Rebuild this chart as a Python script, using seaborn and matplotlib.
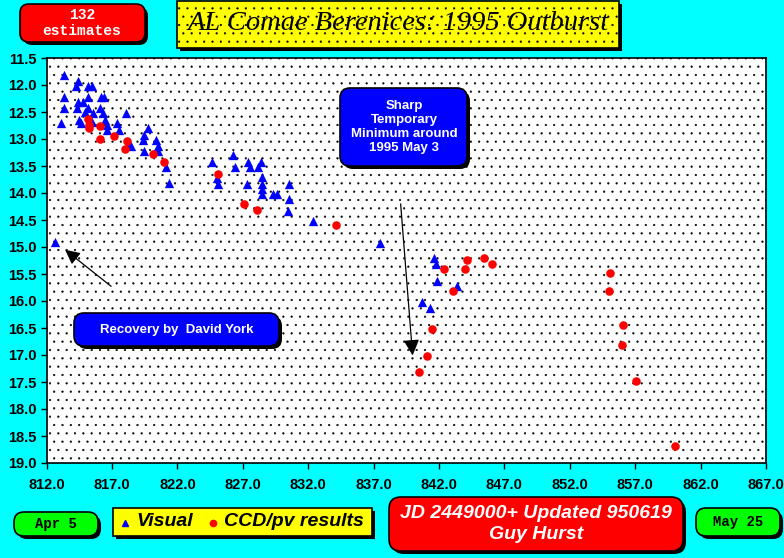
import matplotlib
matplotlib.use("Agg")
import matplotlib.pyplot as plt
from matplotlib.patches import FancyBboxPatch, Rectangle
from matplotlib.lines import Line2D
import pandas as pd
import seaborn as sns

# Visual estimates (JD - 2449000, magnitude)
vis_jd = [813.33, 814.40, 814.25, 815.16, 815.47, 813.33, 815.16, 816.16, 816.38,
          814.40, 814.78, 813.33, 814.32, 815.16, 816.08, 815.54, 816.31, 818.07,
          814.93, 813.10, 814.48, 814.63, 815.47, 816.46, 816.61, 816.61, 817.38,
          817.53, 818.22, 819.75, 819.44, 819.36, 820.36, 820.51, 818.45, 819.44,
          820.51, 821.12, 821.35, 824.64, 826.24, 826.39, 827.39, 827.54, 828.38,
          828.15, 825.02, 825.09, 827.31, 828.46, 828.46, 828.46, 828.46, 829.30,
          829.60, 830.52, 830.52, 830.44, 832.35, 812.64, 837.46, 841.59, 841.75,
          841.82, 843.35, 840.68, 841.29]
vis_mag = [11.81, 11.93, 12.02, 12.02, 12.02, 12.22, 12.22, 12.22, 12.22,
           12.31, 12.31, 12.43, 12.43, 12.43, 12.43, 12.52, 12.52, 12.52,
           12.50, 12.70, 12.65, 12.70, 12.69, 12.65, 12.74, 12.83, 12.70,
           12.83, 13.11, 12.80, 12.93, 13.02, 13.02, 13.13, 13.13, 13.22,
           13.22, 13.52, 13.81, 13.43, 13.30, 13.52, 13.43, 13.52, 13.43,
           13.52, 13.72, 13.83, 13.83, 13.70, 13.83, 13.93, 14.02, 14.02,
           14.02, 13.83, 14.11, 14.33, 14.52, 14.91, 14.93, 15.20, 15.31,
           15.63, 15.72, 16.02, 16.13]

# CCD / pv results
ccd_jd = [815.16, 815.24, 815.24, 816.08, 816.08, 817.15, 818.14, 817.99, 820.13,
          820.97, 825.09, 827.08, 828.07, 834.11, 842.37, 844.13, 843.98, 845.43,
          846.04, 843.05, 841.44, 841.06, 840.45, 855.11, 854.96, 856.03, 855.96,
          857.03, 860.01]
ccd_mag = [12.63, 12.74, 12.80, 12.76, 13.00, 12.94, 13.04, 13.19, 13.28,
           13.43, 13.65, 14.20, 14.31, 14.59, 15.41, 15.24, 15.41, 15.20,
           15.31, 15.81, 16.52, 17.02, 17.31, 15.48, 15.81, 16.44, 16.81,
           17.48, 18.69]

x_ticks = [812, 817, 822, 827, 832, 837, 842, 847, 852, 857, 862, 867]
y_ticks = [11.5, 12.0, 12.5, 13.0, 13.5, 14.0, 14.5, 15.0, 15.5, 16.0, 16.5,
           17.0, 17.5, 18.0, 18.5, 19.0]

W, H = 784, 558
CYAN = "#00ffff"

fig = plt.figure(figsize=(W / 100, H / 100), dpi=100)
fig.patch.set_facecolor(CYAN)
plt.rcParams["hatch.linewidth"] = 0.35

ax = fig.add_axes([46.6 / W, 1 - 463 / H, (766 - 46.6) / W, (463 - 58) / H])
ax.set_facecolor("white")
# dotted background
ax.add_patch(Rectangle((0, 0), 1, 1, transform=ax.transAxes, facecolor="white",
                       edgecolor="black", hatch="..", lw=0, zorder=0))

vis = pd.DataFrame({"jd": vis_jd, "mag": vis_mag})
ccd = pd.DataFrame({"jd": ccd_jd, "mag": ccd_mag})
sns.scatterplot(data=vis, x="jd", y="mag", marker="^", color="#0000ff", s=45,
                edgecolor="#0000ff", linewidth=0, ax=ax, zorder=3)
sns.scatterplot(data=ccd, x="jd", y="mag", marker="o", color="#ff0000", s=38,
                edgecolor="#ff0000", linewidth=0, ax=ax, zorder=4)

ax.set_xlim(812, 867)
ax.set_ylim(19.0, 11.5)
ax.set_xticks(x_ticks)
ax.set_xticklabels([f"{v:.1f}" for v in x_ticks],
                   fontfamily=["Liberation Sans Narrow", "Liberation Sans"],
                   fontweight="bold", fontsize=10.5)
ax.set_yticks(y_ticks)
ax.set_yticklabels([f"{v:.1f}" for v in y_ticks], fontfamily="Liberation Sans",
                   fontweight="bold", fontsize=10.5)
ax.tick_params(axis="both", direction="out", length=4, width=1, colors="black")
ax.tick_params(axis="x", pad=7)
ax.tick_params(axis="y", pad=3)
ax.set_xlabel("")
ax.set_ylabel("")
for sp in ax.spines.values():
    sp.set_color("black")
    sp.set_linewidth(1.2)

# arrows
ax.annotate("", xy=(813.25, 15.02), xytext=(817.1, 15.76),
            arrowprops=dict(arrowstyle="-|>", color="black", lw=0.9,
                            mutation_scale=22), zorder=5)
ax.annotate("", xy=(840.0, 17.06), xytext=(839.05, 14.15),
            arrowprops=dict(arrowstyle="-|>", color="black", lw=0.9,
                            mutation_scale=24), zorder=5)


def box(x0, y0, x1, y1, face, pad=8, shadow=3, edge="black", lw=1.2,
        hatch=None, square=False):
    style = "square,pad=0" if square else f"round,pad=0,rounding_size={pad / 100}"
    tr = fig.dpi_scale_trans
    if shadow:
        fig.add_artist(FancyBboxPatch(((x0 + shadow) / 100, (H - y1 - shadow) / 100),
                                      (x1 - x0) / 100, (y1 - y0) / 100,
                                      boxstyle=style, transform=tr,
                                      facecolor="black", edgecolor="black",
                                      lw=0, zorder=10))
    fig.add_artist(FancyBboxPatch((x0 / 100, (H - y1) / 100), (x1 - x0) / 100,
                                  (y1 - y0) / 100, boxstyle=style, transform=tr,
                                  facecolor=face, edgecolor=edge, lw=lw,
                                  hatch=hatch, zorder=11))


def txt(px, py, s, **kw):
    fig.text(px / W, 1 - py / H, s, ha="center", va="center", zorder=12, **kw)


# top-left count box
box(20, 4, 145, 42, "#ff0000", pad=9)
txt(82, 23, "132\nestimates", color="white", fontfamily="Liberation Mono",
    fontweight="bold", fontsize=10.5, linespacing=1.15)

# title
box(177, 1, 619, 48, "#ffff00", square=True, hatch="..")
txt(398, 24, "AL Comae Berenices: 1995 Outburst", color="black",
    fontfamily="Liberation Serif", fontstyle="italic", fontsize=20.5)

# annotation boxes
box(340, 88, 467, 166, "#0000ff", pad=10)
txt(404, 127, "Sharp\nTemporary\nMinimum around\n1995 May 3", color="white",
    fontfamily="Liberation Sans", fontweight="bold", fontsize=9.5,
    linespacing=1.25)
box(74, 313, 279, 346, "#0000ff", pad=10)
txt(177, 330, "Recovery by  David York", color="white",
    fontfamily="Liberation Sans", fontweight="bold", fontsize=9.5)

# bottom boxes
box(14, 512, 98, 536, "#00ff00", pad=10)
txt(56, 524, "Apr 5", color="black", fontfamily="Liberation Mono",
    fontweight="bold", fontsize=10)
box(696, 508, 780, 536, "#00ff00", pad=10)
txt(738, 522, "May 25", color="black", fontfamily="Liberation Mono",
    fontweight="bold", fontsize=10)

box(113, 508, 372, 536, "#ffff00", square=True)
fig.add_artist(Line2D([125 / W], [1 - 523 / H], marker="^", color="#0000ff",
                      markersize=5, lw=0, zorder=12))
fig.add_artist(Line2D([213 / W], [1 - 523 / H], marker="o", color="#ff0000",
                      markersize=4.5, lw=0, zorder=12))
fig.text(136 / W, 1 - 522 / H, "Visual", ha="left", va="center", zorder=12,
         fontfamily="Liberation Sans", fontweight="bold", fontstyle="italic",
         fontsize=14)
fig.text(224 / W, 1 - 522 / H, "CCD/pv results", ha="left", va="center", zorder=12,
         fontfamily="Liberation Sans", fontweight="bold", fontstyle="italic",
         fontsize=14)

box(389, 497, 683, 551, "#ff0000", pad=12)
txt(536, 524, "JD 2449000+ Updated 950619\nGuy Hurst", color="white",
    fontfamily="Liberation Sans", fontweight="bold", fontstyle="italic",
    fontsize=14, linespacing=1.3)

fig.savefig("out.png", dpi=100, facecolor=CYAN)
